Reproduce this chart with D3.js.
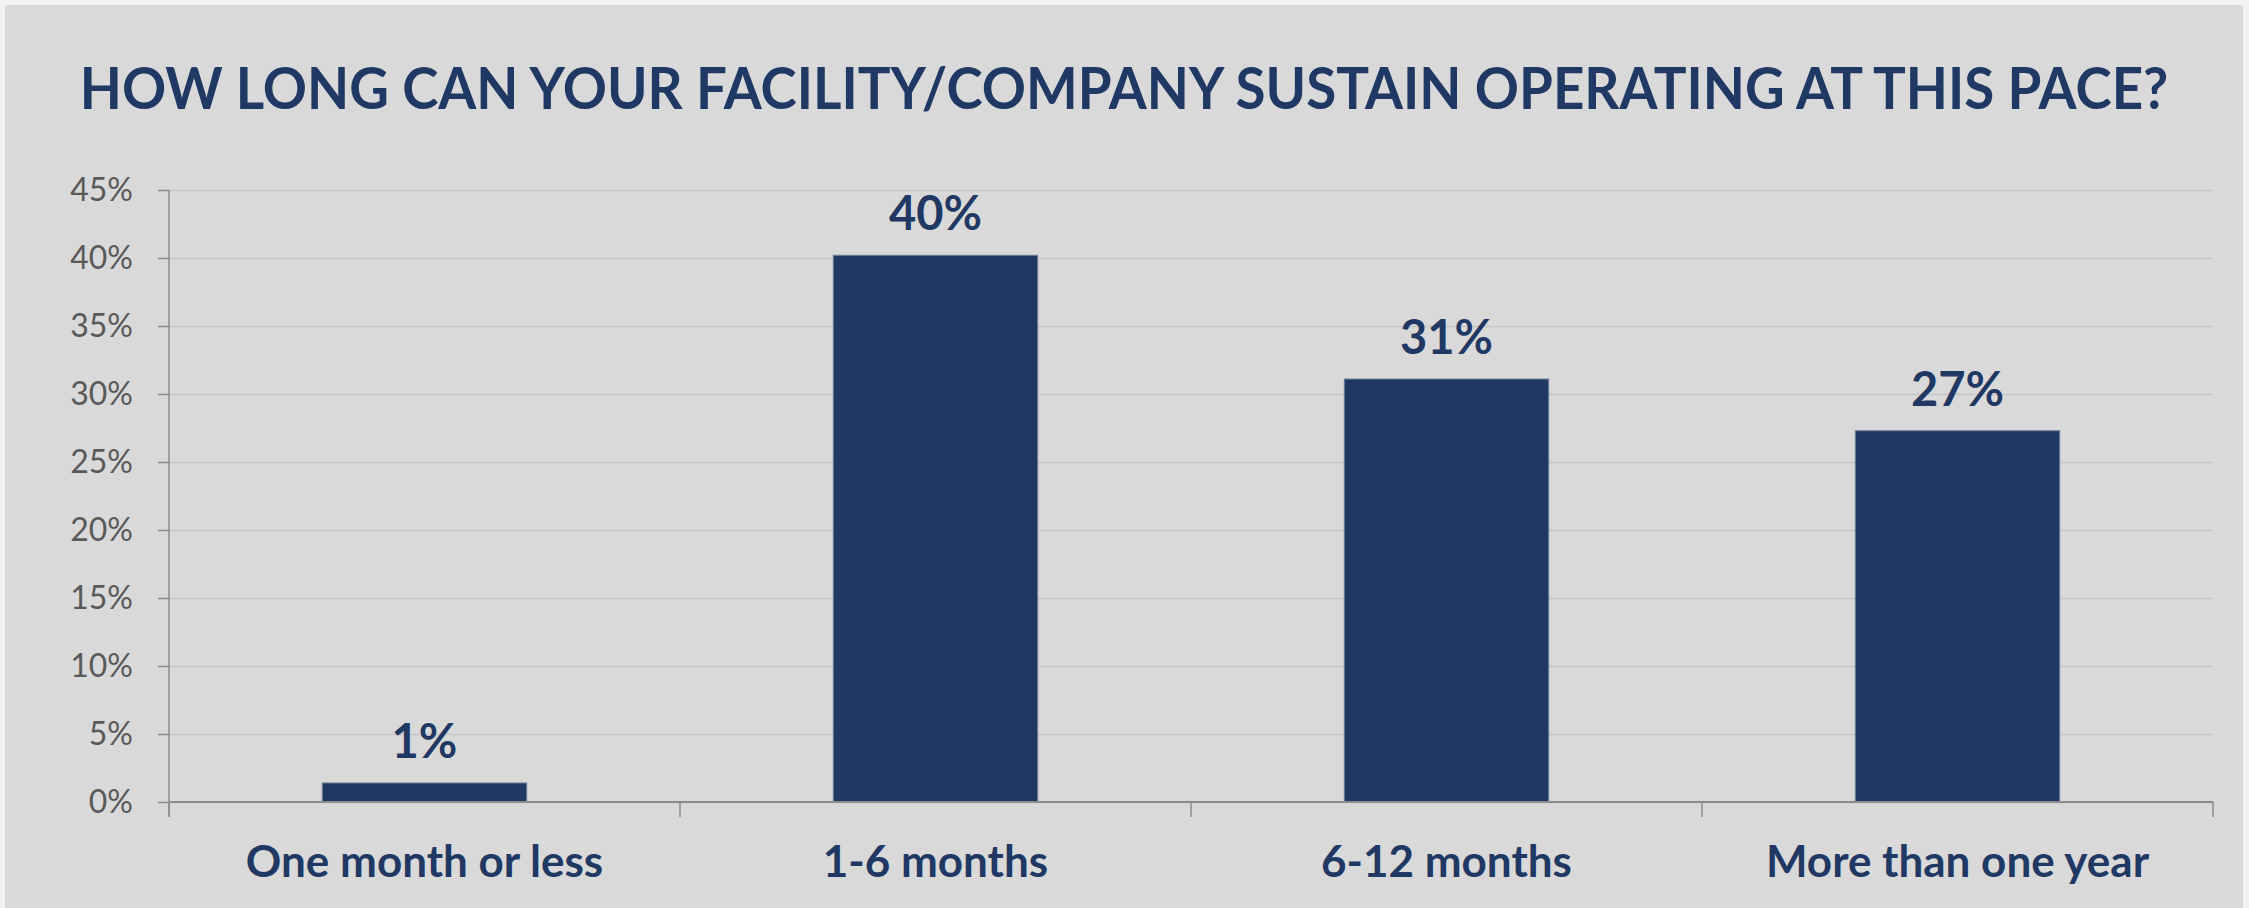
<!DOCTYPE html>
<html>
<head>
<meta charset="utf-8">
<script src="https://cdn.jsdelivr.net/npm/d3@7"></script>
<style>
  html, body { margin: 0; padding: 0; background: #f2f2f2; }
  svg { display: block; }
  text { font-family: Lato, 'Open Sans', sans-serif; }
</style>
</head>
<body>
<div id="chart"></div>
<script>
(function(d3) {
    'use strict';

    var categories = ['One month or less', '1-6 months', '6-12 months', 'More than one year'];
    var values = [1.4, 40.2, 31.1, 27.3];
    var yTicks = [0, 5, 10, 15, 20, 25, 30, 35, 40, 45];
    var title = 'HOW LONG CAN YOUR FACILITY/COMPANY SUSTAIN OPERATING AT THIS PACE?';

    var width = 2249;
    var height = 908;
    var navy = '#1f3864';
    var margin = { top: 190, right: 36, bottom: 106, left: 169 };

    var svg = d3.select('#chart')
      .append('svg')
      .attr('width', width)
      .attr('height', height);

    // chart panel
    svg.append('rect')
      .attr('x', 5)
      .attr('y', 5)
      .attr('width', width - 11)
      .attr('height', height)
      .attr('fill', '#d9d9d9');

    var titleText = svg.append('text')
      .attr('x', 0)
      .attr('y', 0)
      .attr('text-anchor', 'middle')
      .attr('font-size', 58)
      .attr('font-weight', 700)
      .attr('fill', navy)
      .text(title);

    // the original face is narrower than Lato, so squeeze horizontally
    var titleW = titleText.node().getComputedTextLength();
    var sx = Math.min(1, 2089 / titleW);
    titleText.attr('transform', 'translate(1124,109) scale(' + sx + ',1)');

    var x = d3.scaleBand()
      .domain(categories)
      .range([margin.left, width - margin.right])
      .paddingInner(0.6)
      .paddingOuter(0.3);

    var y = d3.scaleLinear()
      .domain([0, 45])
      .range([height - margin.bottom, margin.top]);

    // gridlines
    svg.append('g')
      .attr('class', 'grid')
      .attr('transform', 'translate(' + margin.left + ',0)')
      .call(d3.axisLeft(y).tickValues(yTicks).tickSize(-(width - margin.right - margin.left)).tickFormat(''))
      .call(function(g) { g.select('.domain').remove(); })
      .selectAll('line')
      .attr('stroke', '#c6c6c6')
      .attr('stroke-width', 1.5);

    // y axis
    var yAxis = svg.append('g')
      .attr('transform', 'translate(' + margin.left + ',0)')
      .call(d3.axisLeft(y).tickValues(yTicks).tickSize(11).tickPadding(25)
        .tickFormat(function(d) { return d + '%'; }));

    yAxis.select('.domain').remove();
    yAxis.selectAll('line').attr('stroke', '#8c8c8c').attr('stroke-width', 1.5);
    yAxis.selectAll('text')
      .attr('font-size', 32)
      .attr('fill', '#595959')
      .style('font-family', 'Lato, sans-serif');

    svg.append('line')
      .attr('x1', margin.left)
      .attr('x2', margin.left)
      .attr('y1', y(45))
      .attr('y2', y(0) + 15)
      .attr('stroke', '#8c8c8c')
      .attr('stroke-width', 1.5);

    // bars
    svg.selectAll('.bar')
      .data(values)
      .enter()
      .append('rect')
      .attr('class', 'bar')
      .attr('x', function(d, i) { return x(categories[i]); })
      .attr('y', function(d) { return y(d); })
      .attr('width', x.bandwidth())
      .attr('height', function(d) { return y(0) - y(d); })
      .attr('fill', '#203864')
      .attr('stroke', '#6f7f99')
      .attr('stroke-width', 1);

    // x axis line and category separators
    svg.append('line')
      .attr('x1', margin.left)
      .attr('x2', width - margin.right)
      .attr('y1', y(0))
      .attr('y2', y(0))
      .attr('stroke', '#8c8c8c')
      .attr('stroke-width', 2);

    var bounds = categories.map(function(c) {
      return x(c) - x.step() * x.paddingInner() / 2;
    }).concat([width - margin.right]);

    svg.selectAll('.xtick')
      .data(bounds)
      .enter()
      .append('line')
      .attr('class', 'xtick')
      .attr('x1', function(d) { return d; })
      .attr('x2', function(d) { return d; })
      .attr('y1', y(0))
      .attr('y2', y(0) + 15)
      .attr('stroke', '#8c8c8c')
      .attr('stroke-width', 1.5);

    svg.selectAll('.xlabel')
      .data(categories)
      .enter()
      .append('text')
      .attr('class', 'xlabel')
      .attr('x', function(d) { return x(d) + x.bandwidth() / 2; })
      .attr('y', y(0) + 75)
      .attr('text-anchor', 'middle')
      .attr('font-size', 44)
      .attr('font-weight', 700)
      .attr('fill', navy)
      .text(function(d) { return d; });

    // value labels
    var fmt = d3.format('.0%');
    svg.selectAll('.value')
      .data(values)
      .enter()
      .append('text')
      .attr('class', 'value')
      .attr('x', function(d, i) { return x(categories[i]) + x.bandwidth() / 2; })
      .attr('y', function(d) { return y(d) - 25; })
      .attr('text-anchor', 'middle')
      .attr('font-size', 47)
      .attr('font-weight', 700)
      .attr('fill', navy)
      .text(function(d) { return fmt(d / 100); });

})(window.d3);
</script>
</body>
</html>
